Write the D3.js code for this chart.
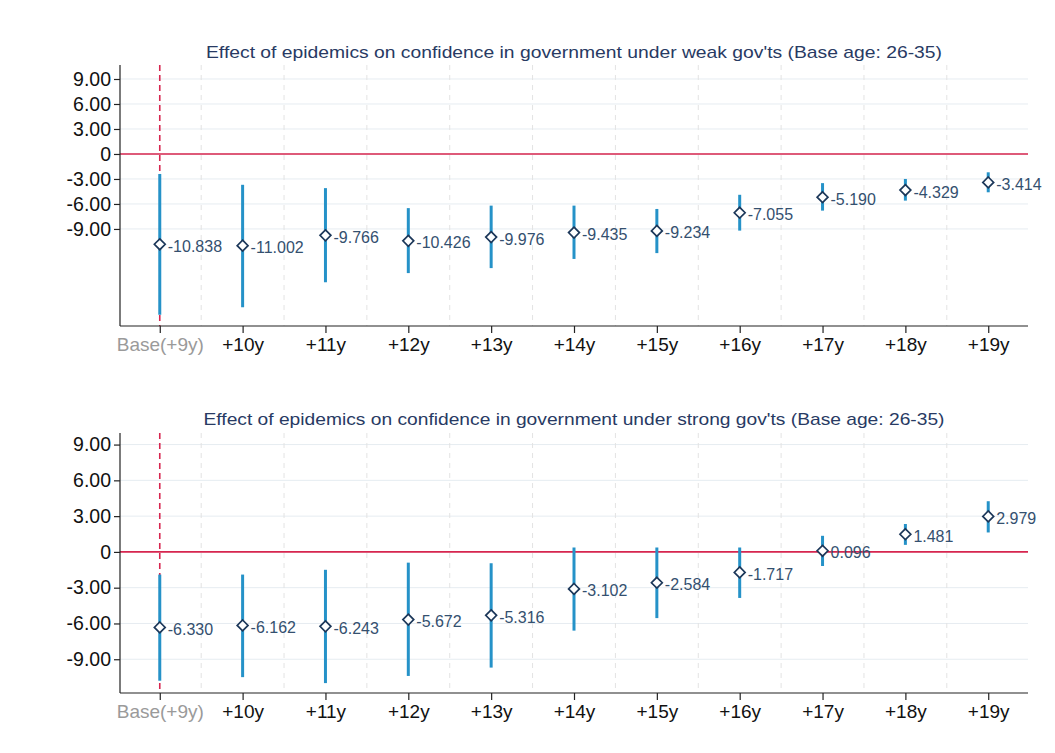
<!DOCTYPE html>
<html>
<head>
<meta charset="utf-8">
<script src="https://cdn.jsdelivr.net/npm/d3@7"></script>
<style>
  html, body { margin: 0; padding: 0; background: #ffffff; }
  svg { display: block; }
  text { font-family: "Liberation Sans", Arial, Helvetica, sans-serif; }
</style>
</head>
<body>
<svg id="chart" width="1055" height="753"></svg>
<script>
// ---------------- data ----------------
const categories = ["Base(+9y)", "+10y", "+11y", "+12y", "+13y", "+14y", "+15y", "+16y", "+17y", "+18y", "+19y"];

const weakTitle = "Effect of epidemics on confidence in government under weak gov'ts (Base age: 26-35)";
const weakEst = [-10.838, -11.002, -9.766, -10.426, -9.976, -9.435, -9.234, -7.055, -5.190, -4.329, -3.414];
const weakLo  = [-19.3, -18.4, -15.4, -14.3, -13.7, -12.6, -11.9, -9.2, -6.8, -5.6, -4.6];
const weakHi  = [-2.4, -3.7, -4.1, -6.5, -6.2, -6.2, -6.6, -4.9, -3.5, -3.0, -2.2];

const strongTitle = "Effect of epidemics on confidence in government under strong gov'ts (Base age: 26-35)";
const strongEst = [-6.330, -6.162, -6.243, -5.672, -5.316, -3.102, -2.584, -1.717, 0.096, 1.481, 2.979];
const strongLo  = [-10.8, -10.5, -11.0, -10.4, -9.7, -6.6, -5.55, -3.86, -1.18, 0.59, 1.63];
const strongHi  = [-1.9, -1.9, -1.5, -0.9, -0.95, 0.37, 0.37, 0.37, 1.35, 2.34, 4.25];

const yTicks = [9, 6, 3, 0, -3, -6, -9];
const yTickLabels = ["9.00", "6.00", "3.00", "0", "-3.00", "-6.00", "-9.00"];

// ---------------- drawing ----------------
const svg = d3.select("#chart");
const fmt = v => d3.format(".3f")(v).replace("\u2212", "-");

function panel(opts) {
  const { title, est, lo, hi, top, bottom, yDomain, titleY } = opts;
  const left = 120, right = 1028;
  const g = svg.append("g");

  const x = d3.scalePoint().domain(categories).range([left, right]).padding(0.48);
  const y = d3.scaleLinear().domain(yDomain).range([bottom, top]);
  const step = x.step();

  // horizontal gridlines
  g.append("g").selectAll("line").data(yTicks).join("line")
    .attr("x1", left).attr("x2", right)
    .attr("y1", d => y(d)).attr("y2", d => y(d))
    .attr("stroke", "#e6ecf1").attr("stroke-width", 1);

  // vertical dashed gridlines at midpoints
  const mids = categories.slice(0, -1).map(c => x(c) + step / 2);
  g.append("g").selectAll("line").data(mids).join("line")
    .attr("x1", d => d).attr("x2", d => d)
    .attr("y1", top).attr("y2", bottom)
    .attr("stroke", "#e3e3e3").attr("stroke-width", 1)
    .attr("stroke-dasharray", "5,5");

  // zero line
  g.append("line")
    .attr("x1", left).attr("x2", right)
    .attr("y1", y(0)).attr("y2", y(0))
    .attr("stroke", "#d7264f").attr("stroke-width", 1.6);

  // vertical dashed red line at base
  g.append("line")
    .attr("x1", x(categories[0])).attr("x2", x(categories[0]))
    .attr("y1", top).attr("y2", bottom)
    .attr("stroke", "#d7264f").attr("stroke-width", 1.6)
    .attr("stroke-dasharray", "6,4");

  // y axis
  const yAxis = d3.axisLeft(y).tickValues(yTicks)
    .tickFormat((d, i) => yTickLabels[i]).tickSize(6).tickPadding(3);
  const ya = g.append("g").attr("transform", `translate(${left},0)`).call(yAxis);
  ya.select(".domain").attr("stroke", "#222").attr("stroke-width", 1.2)
    .attr("d", `M-0,${top}V${bottom}`);
  ya.selectAll(".tick line").attr("stroke", "#222").attr("stroke-width", 1.2);
  ya.selectAll(".tick text").attr("fill", "#111").attr("font-size", 19.5)
    .attr("font-family", "'Liberation Sans', Arial, sans-serif");

  // x axis
  const xAxis = d3.axisBottom(x).tickSize(7).tickPadding(5);
  const xa = g.append("g").attr("transform", `translate(0,${bottom})`).call(xAxis);
  xa.select(".domain").attr("stroke", "#222").attr("stroke-width", 1.2)
    .attr("d", `M${left},0H${right}`);
  xa.selectAll(".tick line").attr("stroke", "#222").attr("stroke-width", 1.2);
  xa.selectAll(".tick text").attr("fill", (d, i) => i === 0 ? "#9a9a9a" : "#111")
    .attr("font-size", 19)
    .attr("font-family", "'Liberation Sans', Arial, sans-serif");

  // error bars
  const data = categories.map((c, i) => ({ c, est: est[i], lo: lo[i], hi: hi[i] }));
  g.append("g").selectAll("line").data(data).join("line")
    .attr("x1", d => x(d.c)).attr("x2", d => x(d.c))
    .attr("y1", d => y(d.lo)).attr("y2", d => y(d.hi))
    .attr("stroke", "#2592c8").attr("stroke-width", 3);

  // diamond markers
  const diamond = d3.symbol().type(d3.symbolDiamond2).size(75);
  g.append("g").selectAll("path").data(data).join("path")
    .attr("d", diamond)
    .attr("transform", d => `translate(${x(d.c)},${y(d.est)})`)
    .attr("fill", "#ffffff").attr("stroke", "#1c3759").attr("stroke-width", 1.7);

  // labels
  g.append("g").selectAll("text").data(data).join("text")
    .attr("x", d => x(d.c) + 8)
    .attr("y", d => y(d.est) + 7.5)
    .attr("font-size", 16)
    .attr("fill", "#34506f")
    .text(d => fmt(d.est));

  // title
  g.append("text")
    .attr("x", 574).attr("y", titleY)
    .attr("text-anchor", "middle")
    .attr("font-size", 17)
    .attr("fill", "#283a63")
    .attr("textLength", opts.titleLen)
    .attr("lengthAdjust", "spacingAndGlyphs")
    .text(title);
}

panel({ title: weakTitle, est: weakEst, lo: weakLo, hi: weakHi,
        top: 65, bottom: 326, yDomain: [-20.65, 10.68], titleY: 58, titleLen: 736 });
panel({ title: strongTitle, est: strongEst, lo: strongLo, hi: strongHi,
        top: 433, bottom: 693, yDomain: [-11.83, 9.97], titleY: 425, titleLen: 741 });
</script>
</body>
</html>
